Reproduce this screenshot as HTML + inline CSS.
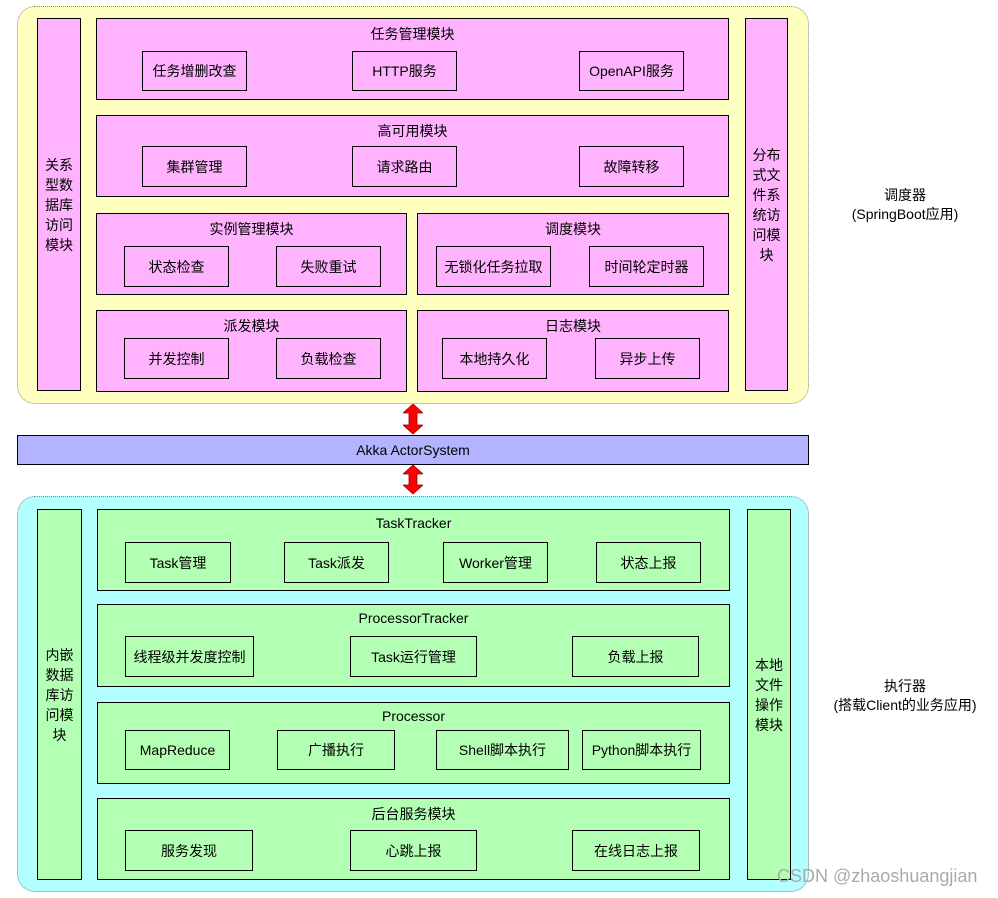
<!DOCTYPE html>
<html><head><meta charset="utf-8"><style>
body{margin:0;width:998px;height:898px;background:#fff;position:relative;overflow:hidden;font-family:"Liberation Sans","Noto Sans CJK SC",sans-serif;font-size:14px;color:#000}
.a{position:absolute;box-sizing:border-box}
.b{position:absolute;box-sizing:border-box;border:1px solid #000;display:flex;align-items:center;justify-content:center;text-align:center}
.p{background:#ffb3ff}.g{background:#b3ffb3}
.t{position:absolute;left:0;right:0;text-align:center;top:5px}
.v{line-height:20px;padding:0 4px}
</style></head><body>
<div class="a" style="left:17px;top:6px;width:792px;height:398px;background:#ffffc0;border:1px dotted #888;border-radius:18px"></div>
<div class="b p v" style="left:37px;top:18px;width:44px;height:373px">关系型数据库访问模块</div>
<div class="b p v" style="left:745px;top:18px;width:43px;height:373px">分布式文件系统访问模块</div>

<div class="b p" style="left:96px;top:18px;width:633px;height:82px"><span class="t">任务管理模块</span></div>
<div class="b" style="left:142px;top:51px;width:105px;height:40px">任务增删改查</div>
<div class="b" style="left:352px;top:51px;width:105px;height:40px">HTTP服务</div>
<div class="b" style="left:579px;top:51px;width:105px;height:40px">OpenAPI服务</div>

<div class="b p" style="left:96px;top:115px;width:633px;height:82px"><span class="t">高可用模块</span></div>
<div class="b" style="left:142px;top:146px;width:105px;height:41px">集群管理</div>
<div class="b" style="left:352px;top:146px;width:105px;height:41px">请求路由</div>
<div class="b" style="left:579px;top:146px;width:105px;height:41px">故障转移</div>

<div class="b p" style="left:96px;top:213px;width:311px;height:82px"><span class="t">实例管理模块</span></div>
<div class="b" style="left:124px;top:246px;width:105px;height:41px">状态检查</div>
<div class="b" style="left:276px;top:246px;width:105px;height:41px">失败重试</div>
<div class="b p" style="left:417px;top:213px;width:312px;height:82px"><span class="t">调度模块</span></div>
<div class="b" style="left:436px;top:246px;width:115px;height:41px">无锁化任务拉取</div>
<div class="b" style="left:589px;top:246px;width:115px;height:41px">时间轮定时器</div>

<div class="b p" style="left:96px;top:310px;width:311px;height:82px"><span class="t">派发模块</span></div>
<div class="b" style="left:124px;top:338px;width:105px;height:41px">并发控制</div>
<div class="b" style="left:276px;top:338px;width:105px;height:41px">负载检查</div>
<div class="b p" style="left:417px;top:310px;width:312px;height:82px"><span class="t">日志模块</span></div>
<div class="b" style="left:442px;top:338px;width:105px;height:41px">本地持久化</div>
<div class="b" style="left:595px;top:338px;width:105px;height:41px">异步上传</div>

<div class="a" style="left:840px;top:186px;width:130px;text-align:center;line-height:19px">调度器<br>(SpringBoot应用)</div>

<svg class="a" style="left:403px;top:404px" width="20" height="91" viewBox="0 0 20 91">
<polygon points="10,0 20,9 14,9 14,21 20,21 10,30 0,21 6,21 6,9 0,9" fill="#f00" stroke="#900" stroke-width="0.8"/>
<polygon points="10,61 20,70 14,70 14,81 20,81 10,90 0,81 6,81 6,70 0,70" fill="#f00" stroke="#900" stroke-width="0.8"/>
</svg>
<div class="b" style="left:17px;top:435px;width:792px;height:30px;background:#b3b3ff">Akka ActorSystem</div>

<div class="a" style="left:17px;top:496px;width:792px;height:396px;background:#b3ffff;border:1px dotted #888;border-radius:18px"></div>
<div class="b g v" style="left:37px;top:509px;width:45px;height:371px">内嵌数据库访问模块</div>
<div class="b g v" style="left:747px;top:509px;width:44px;height:371px">本地文件操作模块</div>

<div class="b g" style="left:97px;top:509px;width:633px;height:82px"><span class="t">TaskTracker</span></div>
<div class="b" style="left:125px;top:542px;width:106px;height:41px">Task管理</div>
<div class="b" style="left:284px;top:542px;width:105px;height:41px">Task派发</div>
<div class="b" style="left:443px;top:542px;width:105px;height:41px">Worker管理</div>
<div class="b" style="left:596px;top:542px;width:105px;height:41px">状态上报</div>

<div class="b g" style="left:97px;top:604px;width:633px;height:83px"><span class="t">ProcessorTracker</span></div>
<div class="b" style="left:125px;top:636px;width:129px;height:41px">线程级并发度控制</div>
<div class="b" style="left:350px;top:636px;width:127px;height:41px">Task运行管理</div>
<div class="b" style="left:572px;top:636px;width:127px;height:41px">负载上报</div>

<div class="b g" style="left:97px;top:702px;width:633px;height:82px"><span class="t">Processor</span></div>
<div class="b" style="left:125px;top:730px;width:105px;height:40px">MapReduce</div>
<div class="b" style="left:277px;top:730px;width:118px;height:40px">广播执行</div>
<div class="b" style="left:436px;top:730px;width:133px;height:40px">Shell脚本执行</div>
<div class="b" style="left:582px;top:730px;width:119px;height:40px">Python脚本执行</div>

<div class="b g" style="left:97px;top:798px;width:633px;height:82px"><span class="t">后台服务模块</span></div>
<div class="b" style="left:125px;top:830px;width:128px;height:41px">服务发现</div>
<div class="b" style="left:350px;top:830px;width:127px;height:41px">心跳上报</div>
<div class="b" style="left:572px;top:830px;width:128px;height:41px">在线日志上报</div>

<div class="a" style="left:815px;top:677px;width:180px;text-align:center;line-height:19px">执行器<br>(搭载Client的业务应用)</div>
<div class="a" style="left:777px;top:866px;font-size:18px;color:#aaa">CSDN @zhaoshuangjian</div>
</body></html>
